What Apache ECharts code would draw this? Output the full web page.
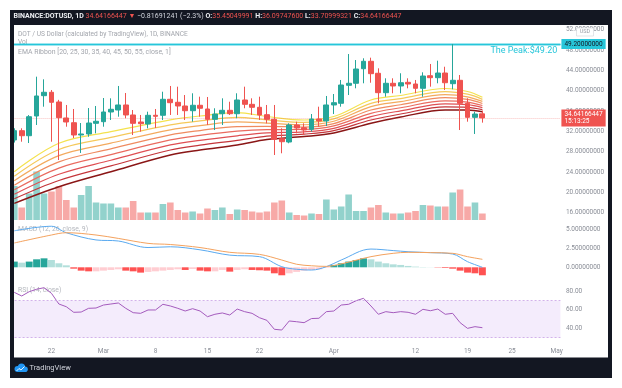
<!DOCTYPE html>
<html><head><meta charset="utf-8">
<script src="https://cdn.jsdelivr.net/npm/echarts@6/dist/echarts.min.js"></script>
<style>html,body{margin:0;padding:0;background:#fff}#c{width:622px;height:388px}</style>
</head><body><div id="c"></div>
<script>
// ---------- data ----------
const dates = ['02-17','02-18','02-19','02-20','02-21','02-22','02-23','02-24','02-25','02-26','02-27','02-28',
'03-01','03-02','03-03','03-04','03-05','03-06','03-07','03-08','03-09','03-10','03-11','03-12','03-13','03-14','03-15','03-16','03-17','03-18','03-19','03-20','03-21','03-22','03-23','03-24','03-25','03-26','03-27','03-28','03-29','03-30','03-31',
'04-01','04-02','04-03','04-04','04-05','04-06','04-07','04-08','04-09','04-10','04-11','04-12','04-13','04-14','04-15','04-16','04-17','04-18','04-19','04-20','04-21','04-22','04-23','04-24','04-25','04-26','04-27','04-28','04-29','04-30','05-01'];
const tickDates = ['02-22','03-01','03-08','03-15','03-22','04-01','04-12','04-19','04-25','05-01'];
const tickText  = ['22','Mar','8','15','22','Apr','12','19','25','May'];

const open  = [30.30,32.13,31.14,35.02,39.02,39.69,37.78,34.63,33.70,31.28,31.48,33.58,33.90,35.81,36.20,37.19,35.22,33.84,33.44,35.16,35.16,38.31,37.72,36.99,36.06,37.13,36.40,34.37,35.47,36.14,35.47,38.17,37.32,36.73,35.28,34.37,30.55,29.90,33.25,32.72,32.40,34.43,34.04,37.19,37.52,41.06,41.46,44.33,45.79,43.43,39.61,41.46,40.93,41.65,41.32,40.47,42.95,42.56,43.48,41.38,42.05,37.52,34.76,35.45];
const close = [32.13,31.14,34.88,38.96,39.69,37.72,34.69,33.84,31.28,31.48,33.64,33.98,35.81,36.34,37.19,35.22,33.58,33.50,35.16,34.96,38.31,37.64,36.99,36.06,37.13,36.54,34.37,35.41,36.14,35.47,38.17,37.32,36.73,35.22,34.37,30.43,29.96,33.25,32.66,32.26,34.43,34.04,37.19,37.64,41.12,41.46,44.27,45.79,43.35,39.61,41.46,40.93,41.57,41.32,40.47,42.89,42.56,43.48,41.57,42.05,37.52,34.76,35.41,34.64166447];
const low   = [29.80,29.96,29.70,33.25,36.85,29.96,26.36,32.91,30.69,27.74,30.94,31.61,32.91,34.23,34.88,34.57,31.28,31.93,32.60,32.66,34.23,35.22,35.22,34.23,33.90,34.88,33.25,32.26,33.25,35.22,34.57,36.54,35.22,34.23,33.58,27.34,27.68,29.65,31.61,31.28,31.93,32.91,33.05,35.41,36.85,39.15,40.47,41.46,41.57,37.52,38.82,39.49,39.49,40.47,39.49,38.82,40.79,41.46,40.14,40.28,32.26,33.90,31.48,33.71];
const high  = [32.60,32.60,35.20,42.76,42.24,40.14,38.20,37.19,36.40,33.64,36.59,36.99,38.56,38.50,40.93,39.55,36.20,35.22,35.87,36.40,39.80,40.93,40.79,39.15,39.49,38.82,38.76,36.54,38.50,37.83,39.49,40.79,38.50,38.82,37.19,37.19,32.60,33.58,33.90,33.58,35.41,36.85,38.96,39.35,42.11,47.22,46.04,46.38,46.50,44.41,42.44,42.44,43.43,42.44,42.11,43.62,45.26,45.91,44.72,49.20,43.09,38.50,35.87,36.10];
const volume = [6.8,2.5,5.3,9.7,5.3,5.7,6.8,4.0,2.5,5.0,6.8,3.5,3.3,3.3,2.5,2.5,3.8,1.5,1.5,1.5,3.2,3.5,2.0,1.5,1.7,1.3,2.3,2.0,2.5,1.2,2.1,2.0,1.7,1.5,1.7,3.5,3.9,1.5,1.0,0.9,1.3,1.2,4.1,2.1,2.7,5.1,1.8,1.8,2.5,3.0,1.5,1.3,1.3,1.5,1.8,3.0,2.9,2.7,2.7,5.5,6.1,2.7,3.5,1.3];

// EMA ribbon, read at these day indices
const ribbonIdx = [0,6,13,21,25,30,34,39,43,48,52,58,61,63];
const ema20 = [24.06,29.65,31.93,34.27,35.02,35.67,34.92,34.23,34.92,38.17,39.06,40.43,39.84,38.70];
const ema25 = [23.17,28.43,30.81,33.28,34.06,34.76,34.27,33.77,34.46,37.51,38.45,39.83,39.32,38.30];
const ema30 = [22.28,27.21,29.68,32.29,33.11,33.85,33.63,33.30,33.99,36.86,37.85,39.22,38.80,37.89];
const ema35 = [21.39,25.99,28.56,31.30,32.15,32.94,32.98,32.84,33.53,36.20,37.24,38.62,38.28,37.49];
const ema40 = [20.50,24.77,27.43,30.31,31.20,32.03,32.33,32.37,33.06,35.55,36.64,38.01,37.76,37.08];
const ema45 = [19.61,23.55,26.31,29.32,30.24,31.12,31.69,31.91,32.60,34.89,36.03,37.41,37.24,36.68];
const ema50 = [18.72,22.32,25.19,28.33,29.28,30.21,31.04,31.45,32.14,34.24,35.42,36.81,36.72,36.28];
const ema55 = [17.83,21.10,24.06,27.34,28.33,29.31,30.39,30.98,31.67,33.58,34.82,36.20,36.20,35.87];

// MACD lines, read at these day indices
const macdIdx = [0,5,7,11,14,18,21,25,29,33,36,38,40,42,44,48,51,53,56,59,61,63];
const macdLine   = [4.8,5.4,4.55,3.6,3.46,2.6,2.7,2.3,1.6,1.4,0.08,-0.26,-0.36,0.08,0.96,2.4,2.2,2.05,1.93,1.75,0.74,0.0];
const signalLine = [3.2,4.25,4.55,4.25,3.8,3.15,3.0,2.6,1.97,1.7,0.96,0.4,0.2,0.12,0.45,1.4,1.84,1.97,1.93,1.84,1.4,1.05];
const macdHist = [0.75,0.61,0.75,1.05,1.18,0.96,0.53,0.26,-0.18,-0.44,-0.53,-0.53,-0.44,-0.35,-0.26,-0.44,-0.53,-0.70,-0.61,-0.53,-0.44,-0.35,-0.26,-0.35,-0.22,-0.44,-0.53,-0.53,-0.35,-0.57,-0.35,-0.26,-0.35,-0.39,-0.44,-0.79,-1.05,-0.79,-0.61,-0.44,
  -0.35,-0.26,-0.08,0.31,0.53,0.75,0.96,1.18,1.05,0.75,0.53,0.39,0.31,0.18,0.09,0.04,0.02,-0.04,-0.09,-0.18,-0.44,-0.70,-0.79,-1.05];
const rsi = [78.6,74.7,79.3,81.9,83.6,77.6,66.1,63.2,57.2,57.5,61.5,61.8,65.0,66.1,67.2,61.5,56.8,56.1,59.7,59.7,65.8,64.0,61.5,58.6,61.1,58.6,52.5,55.1,56.5,54.3,60.7,57.9,56.1,51.4,48.6,39.0,38.2,47.9,47.1,46.1,50.5,
  50.8,57.9,58.6,65.0,65.8,69.6,72.2,64.0,55.1,57.9,56.8,57.9,57.2,55.1,60.4,58.9,60.7,55.1,56.1,46.1,40.0,41.8,40.7];
const peakPrice = 49.2;
const priceTicks = [16,20,24,28,32,36,40,44,48,52];

// ---------- chart ----------
const UP='#26a69a', DN='#ef5350';
const L=10.585, W=549.82;
const FONT='Roboto';
const chart = echarts.init(document.getElementById('c'), null, {renderer:'canvas'});
const hidden = {show:false};
function xa(g, showLabels){
  return {type:'category', gridIndex:g, data:dates, boundaryGap:true,
    axisLine:hidden, axisTick:hidden, splitLine:hidden,
    axisLabel: showLabels ? {show:true, margin:1, fontSize:6.5, color:'#8a8e97', fontFamily:FONT,
      interval:(i,v)=>tickDates.indexOf(v)>=0, formatter:v=>tickText[tickDates.indexOf(v)]} : hidden};
}
const candleData = open.map((o,i)=>[o, close[i], low[i], high[i]]);
const volData = volume.map((v,i)=>({value:v, itemStyle:{color: close[i]>=open[i] ? 'rgba(38,166,154,0.5)' : 'rgba(239,83,80,0.5)'}}));
const histData = macdHist.map((v,i)=>{
  const p = i>0 ? macdHist[i-1] : v;
  let c;
  if (v>=0) c = (v>=p) ? '#26a69a' : '#b2dfdb';
  else c = (v<p) ? '#ff5252' : '#ffcdd2';
  return {value:v, itemStyle:{color:c}};
});
const ribbons = [ema20,ema25,ema30,ema35,ema40,ema45,ema50,ema55];
const ribbonColors = ['#f4e24e','#f5c95a','#f3aa5e','#ef8b60','#ea6b5f','#df4f53','#c4353a','#8a1616'];
const pair = (idx, arr) => idx.map((d,j)=>[d, arr[j]]);

const series = [
  {type:'candlestick', xAxisIndex:0, yAxisIndex:0, data:candleData, barWidth:5.3, z:5,
   itemStyle:{color:UP, color0:DN, borderColor:UP, borderColor0:DN, borderWidth:1},
   markLine:{silent:true, symbol:'none', animation:false, data:[
     {yAxis: close[close.length-1], lineStyle:{color:'rgba(239,83,80,0.35)', type:'dotted', width:1},
      label:{show:true, position:'end', distance:1, formatter:'34.64166447\n15:13:25', backgroundColor:DN, color:'#fff', fontSize:6.5, lineHeight:7.5, padding:[1,3,1,3], fontFamily:FONT}},
     {yAxis: peakPrice, lineStyle:{color:'#26c6da', type:'solid', width:1.3},
      label:{show:true, position:'end', distance:1, formatter:v=>Number(v.value).toFixed(8), backgroundColor:'#26c6da', color:'#131722', fontSize:6.5, padding:[2,3,1,3], fontFamily:FONT}},
     {yAxis: peakPrice, lineStyle:{color:'#26c6da', type:'solid', width:1.3},
      label:{show:true, position:'insideEndBottom', distance:[3,2], formatter:'The Peak:$' + peakPrice.toFixed(2), color:'#26c6da', fontSize:9, fontFamily:FONT}}
   ]}}
];
ribbons.forEach((r,k)=>series.push({type:'line', xAxisIndex:0, yAxisIndex:0, data:pair(ribbonIdx, r), smooth:0.35, symbol:'none', z:3,
  lineStyle:{color:ribbonColors[k], width: k===7 ? 1.5 : 1.2}}));
series.push({type:'bar', xAxisIndex:1, yAxisIndex:1, data:volData, barWidth:6.6, z:1});
series.push({type:'bar', xAxisIndex:2, yAxisIndex:2, data:histData, barWidth:6.9, z:2});
series.push({type:'line', xAxisIndex:2, yAxisIndex:2, data:pair(macdIdx, macdLine), smooth:0.35, symbol:'none', z:3, lineStyle:{color:'#5aaaf0', width:1}});
series.push({type:'line', xAxisIndex:2, yAxisIndex:2, data:pair(macdIdx, signalLine), smooth:0.35, symbol:'none', z:3, lineStyle:{color:'#f4a25e', width:1}});
series.push({type:'line', xAxisIndex:3, yAxisIndex:3, data:rsi, symbol:'none', z:3, lineStyle:{color:'#a45bbd', width:1},
  markArea:{silent:true, itemStyle:{color:'rgba(190,140,240,0.17)'}, data:[[{yAxis:70},{yAxis:30}]]},
  markLine:{silent:true, symbol:'none', label:hidden, lineStyle:{color:'#d2b2ea', type:[2,2], width:1}, data:[{yAxis:70},{yAxis:30}]}});

const axLabel = (fmt)=>({show:true, margin:5.5, fontSize:6.5, color:'#8a8e97', fontFamily:FONT, formatter:fmt});
const T = (x,y,text,fill,size,extra)=>Object.assign({type:'text', x:x, y:y, z:0, style:Object.assign({text:text, fill:fill, fontSize:size, fontFamily:FONT, verticalAlign:'middle'}, extra||{})});
const option = {
  animation:false,
  backgroundColor:'#ffffff',
  grid:[
    {left:L, width:W, top:29.74, height:203.2},
    {left:L, width:W, top:120, height:100},
    {left:L, width:W, top:210.3, height:76},
    {left:L, width:W, top:272.4, height:74.6}
  ],
  xAxis:[xa(0,false), xa(1,false), xa(2,false), xa(3,true)],
  yAxis:[
    {type:'value', gridIndex:0, position:'right', min:12, max:52, interval:4,
     axisLine:hidden, axisTick:hidden, splitLine:hidden,
     axisLabel:axLabel(v=> priceTicks.indexOf(v)>=0 ? v.toFixed(8) : '')},
    {type:'value', gridIndex:1, min:0, max:20, show:false},
    {type:'value', gridIndex:2, position:'right', min:-2.5, max:7.5, interval:2.5,
     axisLine:hidden, axisTick:hidden, splitLine:hidden,
     axisLabel:axLabel(v=> (v>=0 && v<=5) ? v.toFixed(8) : '')},
    {type:'value', gridIndex:3, position:'right', min:20, max:100, interval:20,
     axisLine:hidden, axisTick:hidden, splitLine:hidden,
     axisLabel:axLabel(v=> (v>=40 && v<=80) ? v.toFixed(2) : '')}
  ],
  series: series,
  graphic:[
    T(18, 34, 'DOT / US Dollar (calculated by TradingView), 1D, BINANCE', '#a3a6ad', 6.6),
    T(18, 42, 'Vol', '#a3a6ad', 6.6),
    T(18, 52.5, 'EMA Ribbon [20, 25, 30, 35, 40, 45, 50, 55, close, 1]', '#a3a6ad', 6.9),
    T(18, 229, 'MACD (12, 26, close, 9)', '#b4b7bd', 6.8),
    T(18, 290.5, 'RSI (14, close)', '#b4b7bd', 6.8),
    // USD box
    {type:'rect', z:50, shape:{x:576.5, y:28, width:17, height:8}, style:{fill:'#fff', stroke:'#d0d3d8', lineWidth:0.6}},
    Object.assign(T(585, 32, 'USD', '#9a9da5', 5.5, {align:'center'}), {z:51}),
    // dark frame
    {type:'rect', z:100, shape:{x:10, y:10, width:602, height:15}, style:{fill:'#131722'}},
    {type:'rect', z:100, shape:{x:10, y:10, width:4, height:368}, style:{fill:'#131722'}},
    {type:'rect', z:100, shape:{x:608, y:10, width:4, height:368}, style:{fill:'#131722'}},
    {type:'rect', z:100, shape:{x:10, y:357.5, width:602, height:20.5}, style:{fill:'#131722'}},
    // header
    {type:'text', z:101, x:13.5, y:16, style:{verticalAlign:'middle', fontSize:7, fontFamily:FONT, fill:'#d1d4dc',
      text:'{b|BINANCE:DOTUSD, 1D} {r|34.64166447 \u25BC} {w|\u22120.81691241 (\u22122.3%)} {b|O:}{r|35.45049991} {b|H:}{r|36.09747600} {b|L:}{r|33.70999321} {b|C:}{r|34.64166447}',
      rich:{b:{fill:'#eceef2', fontWeight:'bold', fontSize:7, fontFamily:FONT}, r:{fill:'#ef5350', fontSize:7, fontFamily:FONT}, w:{fill:'#d1d4dc', fontSize:7, fontFamily:FONT}}}},
    // logo
    {type:'circle', z:101, shape:{cx:17.5, cy:369, r:3}, style:{fill:'#2196f3'}},
    {type:'circle', z:101, shape:{cx:21.5, cy:367, r:3.6}, style:{fill:'#2196f3'}},
    {type:'circle', z:101, shape:{cx:25, cy:369.2, r:2.8}, style:{fill:'#2196f3'}},
    {type:'rect', z:101, shape:{x:17.5, y:369, width:7.5, height:3}, style:{fill:'#2196f3'}},
    {type:'polyline', z:102, shape:{points:[[16.5,371],[19,368.5],[21,370],[24.5,366.5]]}, style:{stroke:'#fff', lineWidth:0.9, fill:null}},
    Object.assign(T(29.5, 368.5, 'TradingView', '#d1d4dc', 7.5), {z:101})
  ]
};
chart.setOption(option);
</script>
</body></html>
